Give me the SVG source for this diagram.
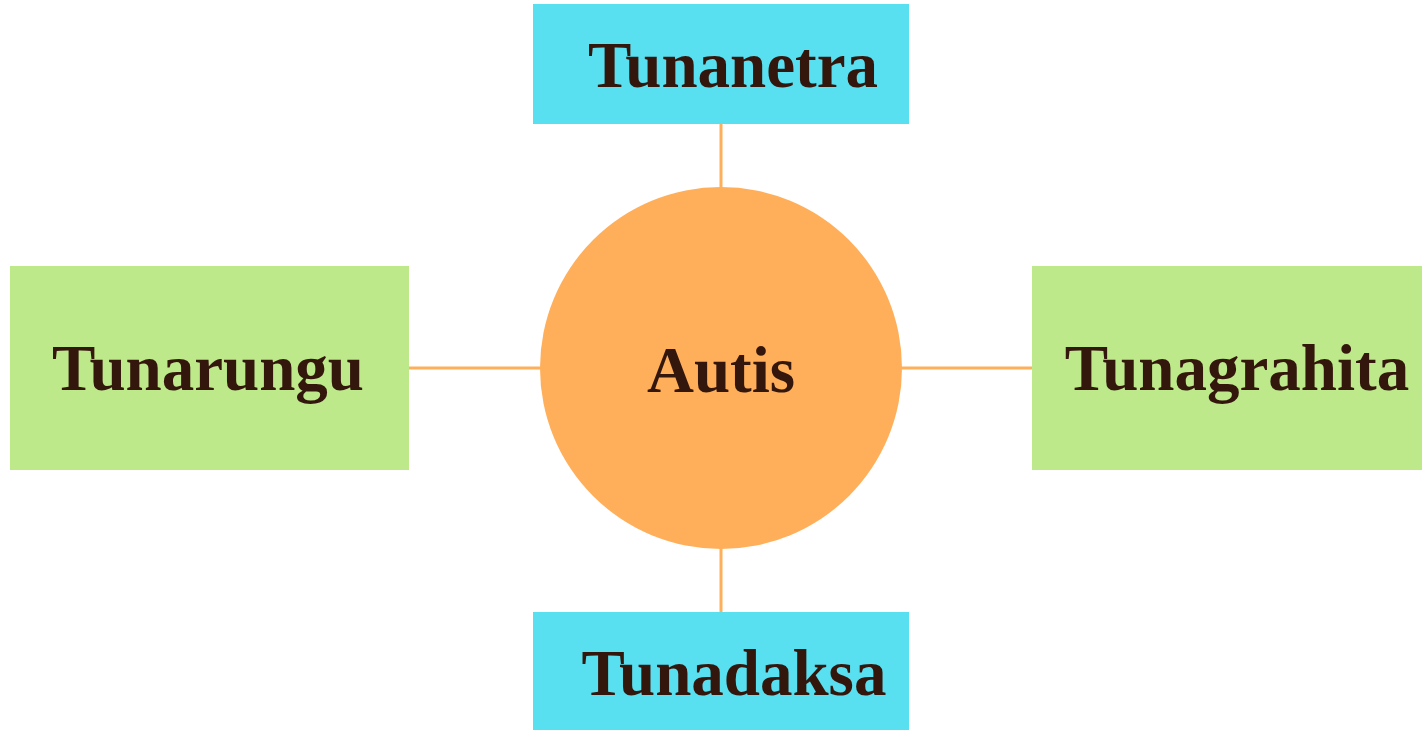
<svg xmlns="http://www.w3.org/2000/svg" width="1422" height="730" viewBox="0 0 1422 730">
<style>
.lbl{font-family:"Liberation Serif","Times New Roman",serif;font-weight:bold;font-size:65px;fill:#33160c;text-anchor:middle}
.cyan{fill:#58e0f0}
.green{fill:#bde98b}
.conn{stroke:#ffaf5a;stroke-width:3;fill:none}
</style>
<rect width="1422" height="730" fill="#ffffff"/>
<g id="connectors">
<line class="conn" x1="721" y1="124" x2="721" y2="190"/>
<line class="conn" x1="721" y1="546" x2="721" y2="612"/>
<line class="conn" x1="409" y1="368" x2="543" y2="368"/>
<line class="conn" x1="899" y1="368" x2="1032" y2="368"/>
</g>
<g id="autis">
<circle cx="721" cy="368" r="181" fill="#ffaf5a"/>
<text class="lbl" x="721" y="392">Autis</text>
</g>
<g id="tunanetra">
<rect class="cyan" x="533" y="4" width="376" height="120"/>
<text class="lbl" x="733" y="87">Tunanetra</text>
</g>
<g id="tunadaksa">
<rect class="cyan" x="533" y="612" width="376" height="118"/>
<text class="lbl" x="734" y="695">Tunadaksa</text>
</g>
<g id="tunarungu">
<rect class="green" x="10" y="266" width="399" height="204"/>
<text class="lbl" x="208" y="390">Tunarungu</text>
</g>
<g id="tunagrahita">
<rect class="green" x="1032" y="266" width="390" height="204"/>
<text class="lbl" x="1237" y="390">Tunagrahita</text>
</g>
</svg>
